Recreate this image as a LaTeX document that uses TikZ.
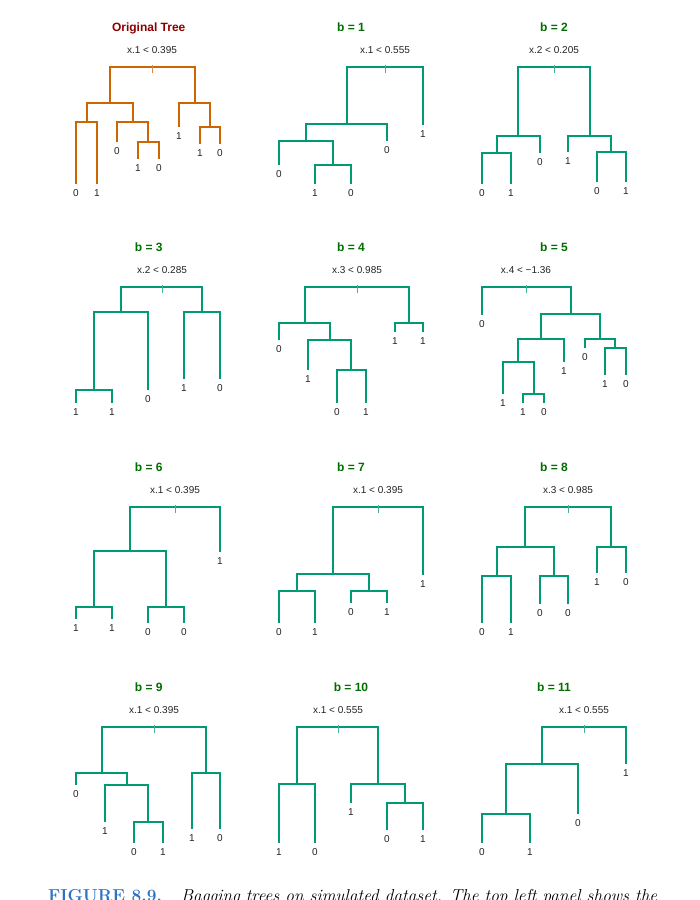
\documentclass[tikz,border=0pt]{standalone}
\usepackage{fontspec}
\newfontfamily\rfont{Liberation Sans}
\definecolor{treeorange}{RGB}{205,102,0}
\definecolor{treegreen}{RGB}{0,155,115}
\definecolor{titlered}{RGB}{139,0,0}
\definecolor{titlegreen}{RGB}{0,110,0}
\definecolor{labgray}{RGB}{35,35,35}
\definecolor{capblue}{RGB}{45,115,195}
\begin{document}
\begin{tikzpicture}[x=1pt,y=-1pt,
  otree/.style={draw=treeorange, line width=1.8pt},
  gtree/.style={draw=treegreen, line width=1.8pt},
  otick/.style={draw=treeorange!75, line width=1pt, xshift=0.5pt},
  gtick/.style={draw=treegreen!75, line width=1pt, xshift=0.5pt},
  leaflab/.style={anchor=base, yshift=-12.5pt, inner sep=0pt, text=labgray, font=\rfont\fontsize{10}{12}\selectfont},
  splitlab/.style={anchor=base, yshift=13.7pt, inner sep=0pt, text=labgray, font=\rfont\fontsize{10}{12}\selectfont},
  titlelab/.style={anchor=base, inner sep=0pt, font=\rfont\bfseries\fontsize{12}{14}\selectfont},
  caplab/.style={anchor=base west, inner sep=0pt, font=\fontsize{17.3}{20}\selectfont},
]
\fill[white] (0,0) rectangle (700,900);
\useasboundingbox (0,0) rectangle (700,900);

% ---------------- Original tree ----------------
\node[titlelab, text=titlered] (Ot) at (148.7,31.6) {Original Tree};
\coordinate (O0) at (152,67);
\coordinate (O1) at (110,103);
\coordinate (O2) at (87,122);
\coordinate (O3) at (76,184);
\coordinate (O4) at (97,184);
\coordinate (O5) at (133,122);
\coordinate (O6) at (117,142);
\coordinate (O7) at (148,142);
\coordinate (O8) at (138,159);
\coordinate (O9) at (159,159);
\coordinate (O10) at (195,103);
\coordinate (O11) at (179,127);
\coordinate (O12) at (210,127);
\coordinate (O13) at (200,144);
\coordinate (O14) at (220,144);
\draw[otree] (O0) -| (O1) (O0) -| (O10) (O1) -| (O2) (O1) -| (O5)
  (O2) -| (O3) (O2) -| (O4) (O5) -| (O6) (O5) -| (O7) (O7) -| (O8) (O7) -| (O9)
  (O10) -| (O11) (O10) -| (O12) (O12) -| (O13) (O12) -| (O14);
\draw[otick] ([yshift=2.3pt]O0) -- ([yshift=-6pt]O0);
\node[splitlab] (O0s) at (O0) {x.1 < 0.395};
\node[leaflab] (O3t) at (O3) {0};
\node[leaflab] (O4t) at (O4) {1};
\node[leaflab] (O6t) at (O6) {0};
\node[leaflab] (O8t) at (O8) {1};
\node[leaflab] (O9t) at (O9) {0};
\node[leaflab] (O11t) at (O11) {1};
\node[leaflab] (O13t) at (O13) {1};
\node[leaflab] (O14t) at (O14) {0};

% ---------------- b = 1 ----------------
\node[titlelab, text=titlegreen] (At) at (351,31.6) {b = 1};
\coordinate (A0) at (385,67);
\coordinate (A1) at (347,124);
\coordinate (A2) at (306,141);
\coordinate (A3) at (279,165);
\coordinate (A4) at (333,165);
\coordinate (A5) at (315,184);
\coordinate (A6) at (351,184);
\coordinate (A8) at (387,141);
\coordinate (A9) at (423,125);
\draw[gtree] (A0) -| (A1) (A0) -| (A9) (A1) -| (A2) (A1) -| (A8)
  (A2) -| (A3) (A2) -| (A4) (A4) -| (A5) (A4) -| (A6);
\draw[gtick] ([yshift=2.3pt]A0) -- ([yshift=-6pt]A0);
\node[splitlab] (A0s) at (A0) {x.1 < 0.555};
\node[leaflab] (A3t) at (A3) {0};
\node[leaflab] (A5t) at (A5) {1};
\node[leaflab] (A6t) at (A6) {0};
\node[leaflab] (A8t) at (A8) {0};
\node[leaflab] (A9t) at (A9) {1};

% ---------------- b = 2 ----------------
\node[titlelab, text=titlegreen] (Bt) at (554,31.6) {b = 2};
\coordinate (B0) at (554,67);
\coordinate (B1) at (518,136);
\coordinate (B2) at (497,153);
\coordinate (B3) at (482,184);
\coordinate (B4) at (511,184);
\coordinate (B5) at (540,153);
\coordinate (B6) at (590,136);
\coordinate (B7) at (568,152);
\coordinate (B8) at (611,152);
\coordinate (B9) at (597,182);
\coordinate (B10) at (626,182);
\draw[gtree] (B0) -| (B1) (B0) -| (B6) (B1) -| (B2) (B1) -| (B5)
  (B2) -| (B3) (B2) -| (B4) (B6) -| (B7) (B6) -| (B8) (B8) -| (B9) (B8) -| (B10);
\draw[gtick] ([yshift=2.3pt]B0) -- ([yshift=-6pt]B0);
\node[splitlab] (B0s) at (B0) {x.2 < 0.205};
\node[leaflab] (B3t) at (B3) {0};
\node[leaflab] (B4t) at (B4) {1};
\node[leaflab] (B5t) at (B5) {0};
\node[leaflab] (B7t) at (B7) {1};
\node[leaflab] (B9t) at (B9) {0};
\node[leaflab] (B10t) at (B10) {1};

% ---------------- b = 3 ----------------
\node[titlelab, text=titlegreen] (Ct) at (148.7,251.6) {b = 3};
\coordinate (C0) at (162,287);
\coordinate (C1) at (121,312);
\coordinate (C2) at (94,390);
\coordinate (C3) at (76,403);
\coordinate (C4) at (112,403);
\coordinate (C5) at (148,390);
\coordinate (C6) at (202,312);
\coordinate (C7) at (184,379);
\coordinate (C8) at (220,379);
\draw[gtree] (C0) -| (C1) (C0) -| (C6) (C1) -| (C2) (C1) -| (C5)
  (C2) -| (C3) (C2) -| (C4) (C6) -| (C7) (C6) -| (C8);
\draw[gtick] ([yshift=2.3pt]C0) -- ([yshift=-6pt]C0);
\node[splitlab] (C0s) at (C0) {x.2 < 0.285};
\node[leaflab] (C3t) at (C3) {1};
\node[leaflab] (C4t) at (C4) {1};
\node[leaflab] (C5t) at (C5) {0};
\node[leaflab] (C7t) at (C7) {1};
\node[leaflab] (C8t) at (C8) {0};

% ---------------- b = 4 ----------------
\node[titlelab, text=titlegreen] (Dt) at (351,251.6) {b = 4};
\coordinate (D0) at (357,287);
\coordinate (D1) at (305,323);
\coordinate (D2) at (279,340);
\coordinate (D3) at (330,340);
\coordinate (D4) at (308,370);
\coordinate (D5) at (351,370);
\coordinate (D6) at (337,403);
\coordinate (D7) at (366,403);
\coordinate (D8) at (409,323);
\coordinate (D9) at (395,332);
\coordinate (D10) at (423,332);
\draw[gtree] (D0) -| (D1) (D0) -| (D8) (D1) -| (D2) (D1) -| (D3)
  (D3) -| (D4) (D3) -| (D5) (D5) -| (D6) (D5) -| (D7) (D8) -| (D9) (D8) -| (D10);
\draw[gtick] ([yshift=2.3pt]D0) -- ([yshift=-6pt]D0);
\node[splitlab] (D0s) at (D0) {x.3 < 0.985};
\node[leaflab] (D2t) at (D2) {0};
\node[leaflab] (D4t) at (D4) {1};
\node[leaflab] (D6t) at (D6) {0};
\node[leaflab] (D7t) at (D7) {1};
\node[leaflab] (D9t) at (D9) {1};
\node[leaflab] (D10t) at (D10) {1};

% ---------------- b = 5 ----------------
\node[titlelab, text=titlegreen] (Et) at (554,251.6) {b = 5};
\coordinate (E0) at (526,287);
\coordinate (E1) at (482,315);
\coordinate (E2) at (571,314);
\coordinate (E3) at (541,339);
\coordinate (E4) at (518,362);
\coordinate (E5) at (503,394);
\coordinate (E6) at (534,394);
\coordinate (E7) at (523,403);
\coordinate (E8) at (544,403);
\coordinate (E9) at (564,362);
\coordinate (E10) at (600,339);
\coordinate (E11) at (585,348);
\coordinate (E12) at (615,348);
\coordinate (E13) at (605,375);
\coordinate (E14) at (626,375);
\draw[gtree] (E0) -| (E1) (E0) -| (E2) (E2) -| (E3) (E2) -| (E10)
  (E3) -| (E4) (E3) -| (E9) (E4) -| (E5) (E4) -| (E6) (E6) -| (E7) (E6) -| (E8)
  (E10) -| (E11) (E10) -| (E12) (E12) -| (E13) (E12) -| (E14);
\draw[gtick] ([yshift=2.3pt]E0) -- ([yshift=-6pt]E0);
\node[splitlab] (E0s) at (E0) {x.4 < −1.36};
\node[leaflab] (E1t) at (E1) {0};
\node[leaflab] (E5t) at (E5) {1};
\node[leaflab] (E7t) at (E7) {1};
\node[leaflab] (E8t) at (E8) {0};
\node[leaflab] (E9t) at (E9) {1};
\node[leaflab] (E11t) at (E11) {0};
\node[leaflab] (E13t) at (E13) {1};
\node[leaflab] (E14t) at (E14) {0};

% ---------------- b = 6 ----------------
\node[titlelab, text=titlegreen] (Ft) at (148.7,471.6) {b = 6};
\coordinate (F0) at (175,507);
\coordinate (F1) at (130,551);
\coordinate (F2) at (94,607);
\coordinate (F3) at (76,619);
\coordinate (F4) at (112,619);
\coordinate (F5) at (166,607);
\coordinate (F6) at (148,623);
\coordinate (F7) at (184,623);
\coordinate (F8) at (220,552);
\draw[gtree] (F0) -| (F1) (F0) -| (F8) (F1) -| (F2) (F1) -| (F5)
  (F2) -| (F3) (F2) -| (F4) (F5) -| (F6) (F5) -| (F7);
\draw[gtick] ([yshift=2.3pt]F0) -- ([yshift=-6pt]F0);
\node[splitlab] (F0s) at (F0) {x.1 < 0.395};
\node[leaflab] (F3t) at (F3) {1};
\node[leaflab] (F4t) at (F4) {1};
\node[leaflab] (F6t) at (F6) {0};
\node[leaflab] (F7t) at (F7) {0};
\node[leaflab] (F8t) at (F8) {1};

% ---------------- b = 7 ----------------
\node[titlelab, text=titlegreen] (Gt) at (351,471.6) {b = 7};
\coordinate (G0) at (378,507);
\coordinate (G1) at (333,574);
\coordinate (G2) at (297,591);
\coordinate (G3) at (279,623);
\coordinate (G4) at (315,623);
\coordinate (G5) at (369,591);
\coordinate (G6) at (351,603);
\coordinate (G7) at (387,603);
\coordinate (G8) at (423,575);
\draw[gtree] (G0) -| (G1) (G0) -| (G8) (G1) -| (G2) (G1) -| (G5)
  (G2) -| (G3) (G2) -| (G4) (G5) -| (G6) (G5) -| (G7);
\draw[gtick] ([yshift=2.3pt]G0) -- ([yshift=-6pt]G0);
\node[splitlab] (G0s) at (G0) {x.1 < 0.395};
\node[leaflab] (G3t) at (G3) {0};
\node[leaflab] (G4t) at (G4) {1};
\node[leaflab] (G6t) at (G6) {0};
\node[leaflab] (G7t) at (G7) {1};
\node[leaflab] (G8t) at (G8) {1};

% ---------------- b = 8 ----------------
\node[titlelab, text=titlegreen] (Ht) at (554,471.6) {b = 8};
\coordinate (H0) at (568,507);
\coordinate (H1) at (525,547);
\coordinate (H2) at (497,576);
\coordinate (H3) at (482,623);
\coordinate (H4) at (511,623);
\coordinate (H5) at (554,576);
\coordinate (H6) at (540,604);
\coordinate (H7) at (568,604);
\coordinate (H8) at (611,547);
\coordinate (H9) at (597,573);
\coordinate (H10) at (626,573);
\draw[gtree] (H0) -| (H1) (H0) -| (H8) (H1) -| (H2) (H1) -| (H5)
  (H2) -| (H3) (H2) -| (H4) (H5) -| (H6) (H5) -| (H7) (H8) -| (H9) (H8) -| (H10);
\draw[gtick] ([yshift=2.3pt]H0) -- ([yshift=-6pt]H0);
\node[splitlab] (H0s) at (H0) {x.3 < 0.985};
\node[leaflab] (H3t) at (H3) {0};
\node[leaflab] (H4t) at (H4) {1};
\node[leaflab] (H6t) at (H6) {0};
\node[leaflab] (H7t) at (H7) {0};
\node[leaflab] (H9t) at (H9) {1};
\node[leaflab] (H10t) at (H10) {0};

% ---------------- b = 9 ----------------
\node[titlelab, text=titlegreen] (It) at (148.7,691.6) {b = 9};
\coordinate (I0) at (154,727);
\coordinate (I1) at (102,773);
\coordinate (I2) at (76,785);
\coordinate (I3) at (127,785);
\coordinate (I4) at (105,822);
\coordinate (I5) at (148,822);
\coordinate (I6) at (134,843);
\coordinate (I7) at (163,843);
\coordinate (I8) at (206,773);
\coordinate (I9) at (192,829);
\coordinate (I10) at (220,829);
\draw[gtree] (I0) -| (I1) (I0) -| (I8) (I1) -| (I2) (I1) -| (I3)
  (I3) -| (I4) (I3) -| (I5) (I5) -| (I6) (I5) -| (I7) (I8) -| (I9) (I8) -| (I10);
\draw[gtick] ([yshift=2.3pt]I0) -- ([yshift=-6pt]I0);
\node[splitlab] (I0s) at (I0) {x.1 < 0.395};
\node[leaflab] (I2t) at (I2) {0};
\node[leaflab] (I4t) at (I4) {1};
\node[leaflab] (I6t) at (I6) {0};
\node[leaflab] (I7t) at (I7) {1};
\node[leaflab] (I9t) at (I9) {1};
\node[leaflab] (I10t) at (I10) {0};

% ---------------- b = 10 ----------------
\node[titlelab, text=titlegreen] (Jt) at (351,691.6) {b = 10};
\coordinate (J0) at (338,727);
\coordinate (J1) at (297,784);
\coordinate (J2) at (279,843);
\coordinate (J3) at (315,843);
\coordinate (J4) at (378,784);
\coordinate (J5) at (351,803);
\coordinate (J6) at (405,803);
\coordinate (J7) at (387,830);
\coordinate (J8) at (423,830);
\draw[gtree] (J0) -| (J1) (J0) -| (J4) (J1) -| (J2) (J1) -| (J3)
  (J4) -| (J5) (J4) -| (J6) (J6) -| (J7) (J6) -| (J8);
\draw[gtick] ([yshift=2.3pt]J0) -- ([yshift=-6pt]J0);
\node[splitlab] (J0s) at (J0) {x.1 < 0.555};
\node[leaflab] (J2t) at (J2) {1};
\node[leaflab] (J3t) at (J3) {0};
\node[leaflab] (J5t) at (J5) {1};
\node[leaflab] (J7t) at (J7) {0};
\node[leaflab] (J8t) at (J8) {1};

% ---------------- b = 11 ----------------
\node[titlelab, text=titlegreen] (Kt) at (554,691.6) {b = 11};
\coordinate (K0) at (584,727);
\coordinate (K1) at (542,764);
\coordinate (K2) at (506,814);
\coordinate (K3) at (482,843);
\coordinate (K4) at (530,843);
\coordinate (K5) at (578,814);
\coordinate (K6) at (626,764);
\draw[gtree] (K0) -| (K1) (K0) -| (K6) (K1) -| (K2) (K1) -| (K5)
  (K2) -| (K3) (K2) -| (K4);
\draw[gtick] ([yshift=2.3pt]K0) -- ([yshift=-6pt]K0);
\node[splitlab] (K0s) at (K0) {x.1 < 0.555};
\node[leaflab] (K3t) at (K3) {0};
\node[leaflab] (K4t) at (K4) {1};
\node[leaflab] (K5t) at (K5) {0};
\node[leaflab] (K6t) at (K6) {1};

% ---------------- caption (cut off at the page edge, as in the reference) ----------------
\node[caplab, text=capblue] (cap1) at (48,901) {\bfseries FIGURE 8.9.};
\node[caplab] (cap2) at (181,901) {\itshape Bagging trees on simulated dataset. The top left panel shows the};
\end{tikzpicture}
\end{document}
